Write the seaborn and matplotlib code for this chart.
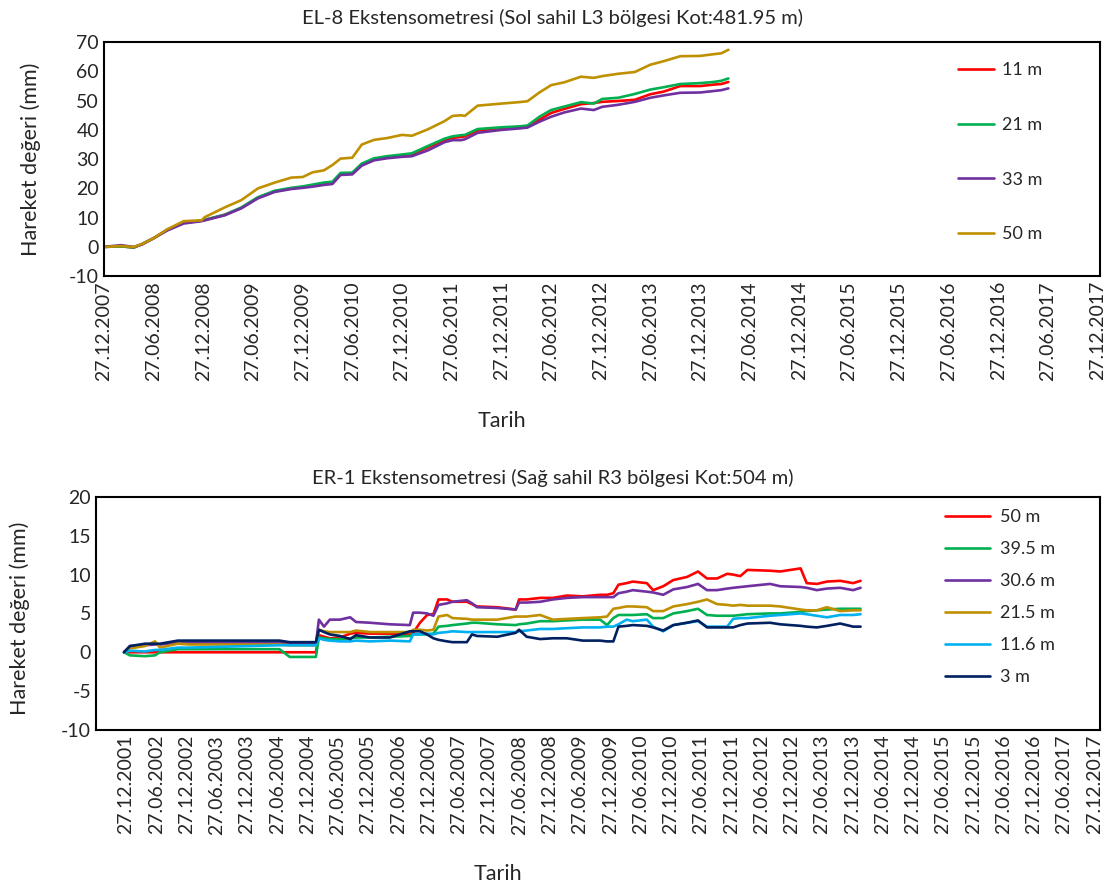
import matplotlib
matplotlib.use('Agg')
import matplotlib.pyplot as plt
import matplotlib.dates as mdates
import seaborn as sns
import pandas as pd

# EL-8 (sol sahil) okumalari
el8_dates = ['27.12.2007', '27.02.2008', '15.04.2008', '15.05.2008', '27.06.2008', '15.08.2008',
             '15.10.2008', '20.12.2008', '01.01.2009', '15.03.2009', '15.05.2009', '15.07.2009',
             '15.09.2009', '15.11.2009', '27.12.2009', '01.02.2010', '15.03.2010', '15.04.2010',
             '15.05.2010', '27.06.2010', '01.08.2010', '15.09.2010', '01.11.2010', '27.12.2010',
             '01.02.2011', '01.04.2011', '01.06.2011', '01.07.2011', '01.08.2011', '15.08.2011',
             '01.10.2011', '27.12.2011', '01.03.2012', '01.04.2012', '15.05.2012', '27.06.2012',
             '15.08.2012', '15.10.2012', '01.12.2012', '01.01.2013', '01.03.2013', '01.05.2013',
             '27.06.2013', '15.08.2013', '15.10.2013', '27.12.2013', '15.02.2014', '15.03.2014',
             '10.04.2014']
el8_11m = [0, 0.2, -0.2, 1.0, 3.0, 5.8, 8.2, 9.0, 9.2, 11.0, 13.3, 16.8, 19.0, 20.0, 20.5, 21.0,
           21.8, 22.0, 25.0, 25.2, 28.2, 30.0, 30.7, 31.3, 31.7, 34.0, 36.5, 37.3, 37.6, 37.8, 39.8,
           40.6, 41.0, 41.3, 43.5, 45.8, 47.2, 48.8, 49.2, 49.6, 49.9, 50.3, 52.2, 53.1, 55.0, 55.0,
           55.5, 55.7, 56.4]
el8_21m = [0, 0.2, -0.2, 1.0, 3.0, 5.8, 8.3, 9.0, 9.3, 11.0, 13.5, 17.0, 19.2, 20.2, 20.7, 21.3,
           22.0, 22.3, 25.3, 25.4, 28.5, 30.3, 31.0, 31.6, 32.0, 34.5, 37.0, 37.8, 38.2, 38.3, 40.3,
           40.9, 41.2, 41.5, 44.5, 46.8, 48.0, 49.5, 49.0, 50.6, 51.0, 52.3, 53.8, 54.6, 55.7, 56.0,
           56.4, 56.8, 57.6]
el8_33m = [0, 0.6, 0.0, 0.8, 3.0, 5.6, 8.0, 8.8, 9.1, 10.8, 13.2, 16.6, 18.8, 19.8, 20.2, 20.6,
           21.2, 21.5, 24.6, 24.8, 27.8, 29.6, 30.3, 30.8, 31.0, 33.0, 35.8, 36.5, 36.5, 36.8, 39.0,
           40.0, 40.5, 40.8, 42.8, 44.5, 46.0, 47.3, 46.8, 47.9, 48.6, 49.6, 51.0, 51.8, 52.7, 52.8,
           53.3, 53.6, 54.2]
el8_50m = [0, 0.3, 0.0, 1.0, 3.0, 6.0, 8.8, 9.1, 10.2, 13.5, 16.0, 20.0, 22.0, 23.7, 23.9, 25.5,
           26.2, 28.0, 30.2, 30.5, 35.0, 36.6, 37.2, 38.3, 38.0, 40.2, 43.0, 44.8, 45.0, 44.8, 48.3,
           49.0, 49.5, 49.8, 52.8, 55.3, 56.3, 58.2, 57.8, 58.4, 59.2, 59.8, 62.3, 63.5, 65.2, 65.3,
           65.9, 66.2, 67.4]

# ER-1 (sag sahil) okumalari
er1_dates = ['15.12.2001', '20.01.2002', '20.04.2002', '20.06.2002', '20.07.2002', '05.11.2002',
             '15.01.2003', '10.07.2004', '10.09.2004', '15.02.2005', '05.03.2005', '05.04.2005',
             '10.05.2005', '10.07.2005', '10.09.2005', '15.10.2005', '08.01.2006', '08.05.2006',
             '05.09.2006', '25.09.2006', '05.11.2006', '18.12.2006', '25.01.2007', '25.02.2007',
             '18.04.2007', '20.05.2007', '15.08.2007', '15.09.2007', '15.10.2007', '15.02.2008',
             '05.06.2008', '25.06.2008', '10.08.2008', '30.10.2008', '15.01.2009', '10.04.2009',
             '15.07.2009', '27.10.2009', '08.12.2009', '15.01.2010', '15.02.2010', '05.04.2010',
             '12.05.2010', '05.08.2010', '12.09.2010', '12.11.2010', '12.01.2011', '05.04.2011',
             '10.06.2011', '03.08.2011', '03.10.2011', '03.12.2011', '08.01.2012', '20.02.2012',
             '03.04.2012', '18.08.2012', '18.10.2012', '18.02.2013', '27.03.2013', '27.05.2013',
             '27.07.2013', '15.10.2013', '01.01.2014', '15.02.2014']
er1_50m = [0, 0, 0, 0, 0, 0, 0, 0, 0, 0, 2.2, 2.0, 1.8, 1.9, 2.4, 2.5, 2.4, 2.4, 2.3, 2.5,
           3.8, 4.8, 4.9, 6.8, 6.8, 6.5, 6.5, 6.2, 5.9, 5.8, 5.5, 6.8, 6.8, 7.0, 7.0, 7.3, 7.2, 7.4,
           7.4, 7.6, 8.7, 8.9, 9.1, 8.9, 8.0, 8.5, 9.3, 9.7, 10.4, 9.5, 9.5, 10.1, 10.0, 9.8, 10.6,
           10.5, 10.4, 10.8, 8.9, 8.8, 9.1, 9.2, 8.9, 9.2]
er1_39m = [0, -0.4, -0.5, -0.4, 0.0, 0.4, 0.4, 0.4, -0.6, -0.6, 1.9, 1.8, 1.7, 1.7, 1.8, 1.9,
           1.9, 2.0, 2.1, 2.3, 2.3, 2.3, 2.4, 3.3, 3.4, 3.5, 3.7, 3.8, 3.8, 3.6, 3.5, 3.6, 3.7, 4.0,
           4.0, 4.1, 4.2, 4.2, 3.5, 4.4, 4.8, 4.8, 4.8, 4.9, 4.4, 4.4, 5.0, 5.3, 5.6, 4.8, 4.7, 4.7,
           4.7, 4.8, 4.9, 5.0, 5.0, 5.2, 5.3, 5.4, 5.5, 5.6, 5.6, 5.6]
er1_30m = [0, 0.8, 0.9, 1.0, 1.0, 1.2, 1.2, 1.2, 1.1, 1.1, 4.2, 3.3, 4.2, 4.2, 4.5, 3.9, 3.8,
           3.6, 3.5, 5.1, 5.1, 5.0, 4.7, 6.1, 6.3, 6.5, 6.7, 6.3, 5.8, 5.7, 5.5, 6.4, 6.4, 6.5, 6.8,
           7.0, 7.1, 7.1, 7.1, 7.1, 7.6, 7.8, 8.0, 7.8, 7.7, 7.4, 8.1, 8.4, 8.8, 8.0, 8.0, 8.2, 8.3,
           8.4, 8.5, 8.8, 8.5, 8.4, 8.3, 8.0, 8.2, 8.3, 8.0, 8.3]
er1_21m = [0, 0.5, 0.8, 1.4, 0.6, 1.1, 1.0, 1.0, 0.9, 0.9, 2.9, 2.7, 2.6, 2.6, 2.6, 2.8, 2.6,
           2.6, 2.6, 2.9, 2.9, 2.8, 2.9, 4.6, 4.8, 4.4, 4.3, 4.2, 4.2, 4.2, 4.6, 4.6, 4.6, 4.8, 4.2,
           4.3, 4.4, 4.5, 4.6, 5.6, 5.7, 5.9, 5.9, 5.8, 5.3, 5.3, 5.9, 6.2, 6.5, 6.8, 6.2, 6.1, 6.0,
           6.1, 6.0, 6.0, 5.9, 5.5, 5.4, 5.4, 5.8, 5.3, 5.4, 5.4]
er1_11m = [0, 0.2, 0.1, 0.3, 0.3, 0.6, 0.6, 0.9, 0.9, 0.9, 1.8, 1.6, 1.5, 1.4, 1.4, 1.5, 1.4,
           1.5, 1.4, 2.3, 2.3, 2.4, 2.3, 2.5, 2.6, 2.7, 2.6, 2.6, 2.6, 2.6, 2.6, 2.7, 2.8, 3.0, 3.0,
           3.1, 3.2, 3.2, 3.3, 3.3, 3.6, 4.2, 4.0, 4.2, 3.3, 2.7, 3.5, 3.8, 4.0, 3.3, 3.3, 3.3, 4.3,
           4.4, 4.4, 4.7, 4.8, 5.0, 4.9, 4.7, 4.5, 4.8, 4.8, 4.9]
er1_3m = [0, 0.8, 1.1, 1.1, 1.1, 1.5, 1.5, 1.5, 1.3, 1.3, 2.9, 2.6, 2.3, 2.1, 1.7, 2.2, 1.9,
          1.9, 2.7, 2.7, 2.7, 2.3, 1.8, 1.6, 1.4, 1.3, 1.3, 2.3, 2.1, 2.0, 2.5, 2.9, 2.0, 1.7, 1.8,
          1.8, 1.5, 1.5, 1.4, 1.4, 3.3, 3.4, 3.5, 3.4, 3.2, 2.8, 3.5, 3.8, 4.1, 3.2, 3.2, 3.2, 3.2,
          3.5, 3.7, 3.8, 3.6, 3.4, 3.3, 3.2, 3.4, 3.7, 3.3, 3.3]

el8_labels = ['11 m', '21 m', '33 m', '50 m']
el8_colors = ['#FF0000', '#00B050', '#7030A0', '#BF9000']
er1_labels = ['50 m', '39.5 m', '30.6 m', '21.5 m', '11.6 m', '3 m']
er1_colors = ['#FF0000', '#00B050', '#7030A0', '#BF9000', '#00B0F0', '#002060']

sns.set_style('white')
plt.rcParams['font.family'] = ['Lato', 'DejaVu Sans']
plt.rcParams['axes.unicode_minus'] = False


def half_year_ticks(y0, y1):
    ticks = [pd.Timestamp(y0, 12, 27)]
    for y in range(y0 + 1, y1 + 1):
        ticks += [pd.Timestamp(y, 6, 27), pd.Timestamp(y, 12, 27)]
    return ticks


def extenso_plot(ax, dates, values, labels, colors, ticks, xlim, ylim, ystep):
    df = pd.DataFrame(dict(zip(labels, values)))
    df['Tarih'] = pd.to_datetime(dates, format='%d.%m.%Y')
    long_df = df.melt(id_vars='Tarih', var_name='seri', value_name='deger')
    sns.lineplot(data=long_df, x='Tarih', y='deger', hue='seri', hue_order=labels,
                 palette=colors, linewidth=1.9, ax=ax)
    ax.set_xlim(xlim)
    ax.set_ylim(ylim)
    ax.set_yticks(range(ylim[0], ylim[1] + 1, ystep))
    ax.set_xticks(ticks)
    ax.xaxis.set_major_formatter(mdates.DateFormatter('%d.%m.%Y'))
    ax.tick_params(axis='x', labelrotation=90, labelsize=14, direction='in', length=5, width=1.3)
    ax.tick_params(axis='y', labelsize=14, direction='in', length=5, width=1.3)
    for sp in ax.spines.values():
        sp.set_color('black')
        sp.set_linewidth(1.5)
    ax.set_xlabel('Tarih', fontsize=15.5)
    ax.set_ylabel('Hareket değeri (mm)', fontsize=15.5)
    ax.xaxis.set_label_coords(0.40, -0.575)


fig = plt.figure(figsize=(11.06, 8.88), dpi=100)
ax1 = fig.add_axes([0.094, 0.689, 0.9005, 0.2635])
ax2 = fig.add_axes([0.0868, 0.178, 0.9078, 0.2624])

extenso_plot(ax1, el8_dates, [el8_11m, el8_21m, el8_33m, el8_50m], el8_labels, el8_colors,
             half_year_ticks(2007, 2017),
             (pd.Timestamp(2007, 12, 27), pd.Timestamp(2018, 1, 5)), (-10, 70), 10)
extenso_plot(ax2, er1_dates, [er1_50m, er1_39m, er1_30m, er1_21m, er1_11m, er1_3m], er1_labels,
             er1_colors, half_year_ticks(2001, 2017),
             (pd.Timestamp(2001, 6, 29), pd.Timestamp(2018, 1, 30)), (-10, 20), 5)
ax1.yaxis.set_label_coords(-0.063, 0.5)
ax2.yaxis.set_label_coords(-0.066, 0.48)

fig.text(0.5, 1 - 18 / 888, 'EL-8 Ekstensometresi (Sol sahil L3 bölgesi Kot:481.95 m)',
         ha='center', va='center', fontsize=14.5)
fig.text(0.5, 1 - 478 / 888, 'ER-1 Ekstensometresi (Sağ sahil R3 bölgesi Kot:504 m)',
         ha='center', va='center', fontsize=14.5)

h, l = ax1.get_legend_handles_labels()
ax1.legend(h, l, loc='upper left', bbox_to_anchor=(958 / 1106, 1 - 62 / 888),
           bbox_transform=fig.transFigure, frameon=False, fontsize=13, handlelength=2.0,
           handletextpad=0.45, labelspacing=2.15, borderpad=0, borderaxespad=0)
h, l = ax2.get_legend_handles_labels()
ax2.legend(h, l, loc='upper left', bbox_to_anchor=(945 / 1106, 1 - 509 / 888),
           bbox_transform=fig.transFigure, frameon=False, fontsize=13, handlelength=2.5,
           handletextpad=0.55, labelspacing=0.89, borderpad=0, borderaxespad=0)

fig.savefig('out.png', dpi=100)
